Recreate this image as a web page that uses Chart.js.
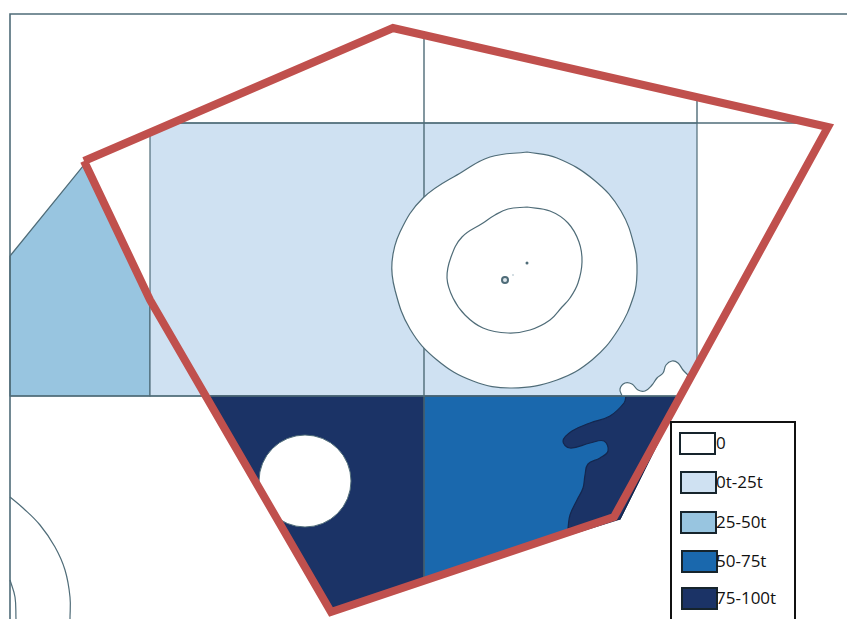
<!DOCTYPE html>
<html>
<head>
<meta charset="utf-8">
<style>
  html, body { margin: 0; padding: 0; background: #fff; overflow: hidden; }
  #wrap { position: relative; width: 847px; height: 619px; overflow: hidden; }
  canvas { display: block; }
  #legend { position: absolute; left: 670px; top: 421px; width: 126px; height: 210px; border: 2px solid #111; box-sizing: border-box; background: #fff; }
  .swatch { position: absolute; width: 37px; height: 23px; border: 2px solid #16242c; box-sizing: border-box; }
  .label { position: absolute; font-family: "Open Sans", sans-serif; font-size: 17px; line-height: 22px; color: #111; white-space: nowrap; }
</style>
</head>
<body>
<div id="wrap">
  <canvas id="chart" width="847" height="619"></canvas>
  <div id="legend"></div>
</div>
<script src="https://cdn.jsdelivr.net/npm/chart.js@4"></script>
<script>
// map outlines, [x, y] in map units
const frameLine = [[10, 619], [10, 14], [847, 14]];
const gridV1 = [[424, 36], [424, 580]];
const gridV2 = [[697, 97], [697, 123]];
const gridH1 = [[172, 123], [812, 123]];
const gridH2 = [[10, 396], [680, 396]];

const zoneLight = [[150, 135], [175, 123], [697, 123], [697, 366], [680, 396], [150, 396], [150, 135]];
const zoneMid = [[10, 256], [83, 166], [150, 300], [150, 396], [10, 396], [10, 256]];
const zoneNavyA = [[206, 396], [424, 396], [424, 580], [332, 612], [206, 396]];
const zoneBlue = [[424, 396], [681, 396], [620, 519], [424, 580], [424, 396]];

const navyBlob = [[626, 396], [626, 396], [624, 403], [610, 416], [590, 423], [572, 431], [563, 441], [570, 448], [590, 443], [604, 441], [608, 451], [600, 458], [588, 464], [585, 475], [583, 488], [577, 500], [570, 515], [568, 528], [568, 528], [620, 519], [620, 519], [681, 396], [681, 396], [626, 396]];
const coastBlob = [[622, 396], [622, 396], [620, 389], [625, 383], [632, 384], [638, 390], [645, 391], [652, 385], [657, 378], [663, 373], [666, 365], [672, 361], [678, 363], [683, 370], [688, 375], [688, 375], [680, 396], [680, 396], [622, 396]];

const ringOuter = [[527, 152], [557, 158], [594, 180], [621, 211], [635, 249], [637, 272], [634, 295], [618, 330], [592, 360], [557, 380], [512, 388], [473, 381], [437, 360], [410, 329], [395, 290], [392, 262], [400, 232], [423, 198], [462, 172], [490, 157], [527, 152]];
const ringInner = [[527, 207], [550, 211], [568, 223], [579, 242], [582, 262], [578, 283], [570, 298], [562, 307], [550, 320], [530, 330], [508, 333], [483, 328], [465, 315], [453, 298], [447, 278], [451, 257], [462, 237], [483, 223], [495, 215], [508, 209], [527, 207]];

const arcBig = [[10, 497], [23, 508], [40, 525], [55, 547], [65, 570], [70, 597], [70, 619]];
const arcSmall = [[10, 580], [15, 597], [16, 619]];
const holeCircle = [[305, 481]];
const islandRing = [[505, 280]];
const islandDot = [[527, 263]];
const islandSpeck = [[513, 275]];

const redOutline = [[84, 161], [393, 28], [828, 127], [614, 517], [331, 612], [150, 300], [84, 161]];

// legend
const legendLabels = ['0', '0t-25t', '25-50t', '50-75t', '75-100t'];
const legendColors = ['#ffffff', '#cfe1f2', '#98c5e0', '#1a68ad', '#1b3366'];

const LINE = '#4f6c78';
const pts = arr => arr.map(p => ({ x: p[0], y: p[1] }));

function shape(data, color, extra) {
    return Object.assign({
        data: pts(data),
        showLine: true,
        fill: 'shape',
        backgroundColor: color,
        borderColor: LINE,
        borderWidth: 1.2,
        pointRadius: 0,
        tension: 0
    }, extra || {});
}
function line(data, extra) {
    return Object.assign({
        data: pts(data),
        showLine: true,
        fill: false,
        borderColor: LINE,
        borderWidth: 1.2,
        pointRadius: 0,
        tension: 0
    }, extra || {});
}

// bottom layer first, reversed below because chart.js paints dataset 0 last
const layers = [
    shape(zoneMid, legendColors[2]),
    shape(zoneLight, legendColors[1]),
    shape(zoneNavyA, legendColors[4], { borderColor: '#14274f' }),
    shape(zoneBlue, legendColors[3], { borderColor: '#14274f' }),
    shape(navyBlob, legendColors[4], { tension: 0.4, borderColor: '#14274f' }),
    shape(coastBlob, '#ffffff', { tension: 0.4 }),
    line(gridV1, { borderWidth: 1.4 }),
    line(gridV2, { borderWidth: 1.4 }),
    line(gridH1, { borderWidth: 1.4 }),
    line(gridH2, { borderWidth: 1.4 }),
    shape(ringOuter, '#ffffff', { tension: 0.4 }),
    shape(ringInner, '#ffffff', { tension: 0.4 }),
    line(frameLine, { borderWidth: 1.6 }),
    line(arcBig, { tension: 0.4 }),
    line(arcSmall, { tension: 0.4 }),
    { data: pts(holeCircle), pointRadius: 46, pointBackgroundColor: '#ffffff', pointBorderColor: LINE, pointBorderWidth: 1 },
    { data: pts(islandRing), pointRadius: 3, pointBackgroundColor: '#dfe8ee', pointBorderColor: LINE, pointBorderWidth: 2 },
    { data: pts(islandDot), pointRadius: 1.5, pointBackgroundColor: LINE, pointBorderColor: LINE, pointBorderWidth: 0 },
    { data: pts(islandSpeck), pointRadius: 0.8, pointBackgroundColor: '#9db4c0', pointBorderColor: '#9db4c0', pointBorderWidth: 0 },
    line(redOutline, { borderColor: '#c0504d', borderWidth: 8, borderJoinStyle: 'miter', borderCapStyle: 'butt' })
];

new Chart(document.querySelector('#chart').getContext('2d'), {
    type: 'scatter',
    data: { datasets: layers.reverse() },
    options: {
        responsive: false,
        animation: false,
        layout: { padding: 0, autoPadding: false },
        scales: {
            x: { type: 'linear', min: 0, max: 847, display: false },
            y: { type: 'linear', min: 0, max: 619, reverse: true, display: false }
        },
        plugins: {
            legend: { display: false },
            tooltip: { enabled: false }
        }
    }
});

// html legend, same steps as the picture
const legendBox = document.querySelector('#legend');
const rowTop = [9, 48, 88, 127, 164];
const rowLeft = [7, 8, 8, 9, 9];
for (let i = 0; i < legendLabels.length; i++) {
    const sw = document.createElement('div');
    sw.className = 'swatch';
    sw.style.left = rowLeft[i] + 'px';
    sw.style.top = rowTop[i] + 'px';
    sw.style.background = legendColors[i];
    legendBox.appendChild(sw);
    const lab = document.createElement('div');
    lab.className = 'label';
    lab.textContent = legendLabels[i];
    lab.style.left = '44px';
    lab.style.top = rowTop[i] + 'px';
    legendBox.appendChild(lab);
}
</script>
</body>
</html>
